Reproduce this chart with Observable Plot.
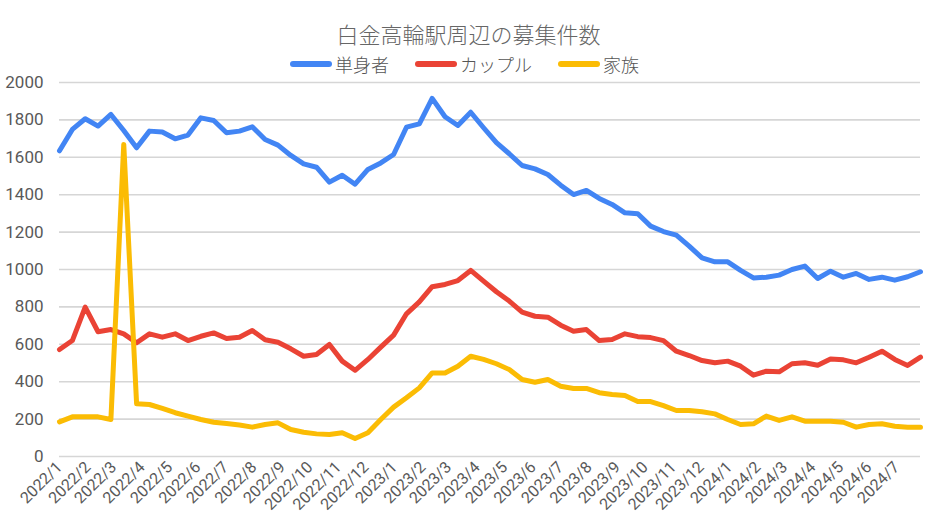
<!DOCTYPE html>
<html lang="ja">
<head>
<meta charset="utf-8">
<script src="https://cdn.jsdelivr.net/npm/d3@7"></script>
<script src="https://cdn.jsdelivr.net/npm/@observablehq/plot@0.6"></script>
<style>
  html, body { margin: 0; padding: 0; background: #fff; }
  body { width: 945px; height: 532px; overflow: hidden; font-family: "Noto Sans CJK JP", Roboto, sans-serif; }
  #title { margin-top: 21px; height: 24px; line-height: 24px; text-align: center; font-size: 22px; font-weight: 300; color: #666; padding-right: 8px; }
  #legend { margin-top: 9px; height: 20px; line-height: 20px; display: flex; justify-content: center; align-items: center; font-size: 18px; font-weight: 300; color: #555; padding-right: 16px; }
  .item { display: flex; align-items: center; margin: 0 13px; }
  .sw { display: inline-block; width: 42px; height: 6px; border-radius: 3px; margin-right: 3px; }
  #chart { height: 457px; }
</style>
</head>
<body>
<div id="title">白金高輪駅周辺の募集件数</div>
<div id="legend"></div>
<div id="chart"></div>
<script>
// 調査日（2週間ごと）
const dates = [
  "2022-01-04","2022-01-18","2022-02-01","2022-02-15","2022-03-01","2022-03-15","2022-03-29","2022-04-12","2022-04-26","2022-05-10",
  "2022-05-24","2022-06-07","2022-06-21","2022-07-05","2022-07-19","2022-08-02","2022-08-16","2022-08-30","2022-09-13","2022-09-27",
  "2022-10-11","2022-10-25","2022-11-08","2022-11-22","2022-12-06","2022-12-20",
  "2023-01-03","2023-01-17","2023-01-31","2023-02-14","2023-02-28","2023-03-14","2023-03-28","2023-04-11","2023-04-25","2023-05-09",
  "2023-05-23","2023-06-06","2023-06-20","2023-07-04","2023-07-18","2023-08-01","2023-08-15","2023-08-29","2023-09-12","2023-09-26",
  "2023-10-10","2023-10-24","2023-11-07","2023-11-21","2023-12-05","2023-12-19",
  "2024-01-02","2024-01-16","2024-01-30","2024-02-13","2024-02-27","2024-03-12","2024-03-26","2024-04-09","2024-04-23","2024-05-07",
  "2024-05-21","2024-06-04","2024-06-18","2024-07-02","2024-07-16","2024-07-30"
];

const seriesNames = ["単身者", "カップル", "家族"];
const seriesColors = ["#4285F4", "#EA4335", "#FBBC04"];

const single = [
  1635,1749,1806,1767,1829,1743,1651,1740,1735,1699,
  1719,1811,1797,1731,1740,1763,1695,1665,1610,1565,
  1547,1467,1504,1456,1535,1570,1615,1761,1779,1915,
  1817,1770,1841,1758,1678,1619,1556,1538,1508,1451,
  1401,1423,1380,1348,1303,1298,1232,1203,1184,1125,
  1062,1041,1041,995,955,959,970,1000,1018,952,
  991,959,979,947,959,943,961,988
];
const couple = [
  572,620,799,667,679,656,608,656,638,656,
  620,643,661,631,638,674,624,611,576,536,
  545,599,510,461,519,585,649,763,827,908,
  920,941,995,938,881,831,772,750,745,702,
  670,679,620,626,656,641,636,620,563,540,
  513,501,510,483,435,456,453,496,501,488,
  522,517,501,531,563,519,487,531
];
const family = [
  185,212,212,212,198,1669,282,278,257,234,
  216,198,183,176,168,157,171,180,144,130,
  121,118,127,96,127,198,264,314,367,447,
  447,483,536,519,496,465,412,397,412,376,
  364,364,341,332,326,294,294,272,246,246,
  239,228,198,171,175,216,193,212,189,189,
  189,183,157,171,175,162,157,157
];

const yTicks = [0, 200, 400, 600, 800, 1000, 1200, 1400, 1600, 1800, 2000];
const xTickLabels = [
  "2022/1","2022/2","2022/3","2022/4","2022/5","2022/6","2022/7","2022/8","2022/9","2022/10","2022/11","2022/12",
  "2023/1","2023/2","2023/3","2023/4","2023/5","2023/6","2023/7","2023/8","2023/9","2023/10","2023/11","2023/12",
  "2024/1","2024/2","2024/3","2024/4","2024/5","2024/6","2024/7"
];

// build table
const parse = d3.utcParse("%Y-%m-%d");
const values = [single, couple, family];
const rows = [];
seriesNames.forEach((name, s) => {
  dates.forEach((d, i) => rows.push({date: parse(d), value: values[s][i], series: name}));
});
const labelToDate = new Map(xTickLabels.map(l => {
  const [y, m] = l.split("/").map(Number);
  return [l, new Date(Date.UTC(y, m - 1, 4))];
}));
const tickDates = xTickLabels.map(l => labelToDate.get(l));
const dateToLabel = new Map(xTickLabels.map(l => [+labelToDate.get(l), l]));

// legend
const legend = document.getElementById("legend");
seriesNames.forEach((n, i) => {
  const item = document.createElement("div");
  item.className = "item";
  item.innerHTML = `<span class="sw" style="background:${seriesColors[i]}"></span><span>${n}</span>`;
  legend.appendChild(item);
});

const x0 = parse(dates[0]), x1 = parse(dates[dates.length - 1]);
const chart = Plot.plot({
  width: 945,
  height: 457,
  marginTop: 8,
  marginBottom: 75,
  marginLeft: 59,
  marginRight: 25,
  style: {fontFamily: "Roboto, 'Noto Sans CJK JP', sans-serif", color: "#595959", background: "#fff", overflow: "visible"},
  x: {type: "utc", domain: [x0, x1], label: null},
  y: {domain: [0, 2000], label: null},
  color: {domain: seriesNames, range: seriesColors},
  marks: [
    Plot.ruleY(yTicks, {stroke: "#d6d6d6", strokeWidth: 1.6, x1: x0, x2: x1}),
    Plot.axisY({ticks: yTicks, tickSize: 0, tickPadding: 16, tickFormat: d3.format("d"), fontSize: 17, label: null}),
    Plot.axisX({ticks: tickDates, tickFormat: d => dateToLabel.get(+d), tickRotate: -45, tickSize: 0, tickPadding: 8, fontSize: 16, label: null}),
    ...seriesNames.map((n, s) => Plot.lineY(rows.filter(r => r.series === n), {
      x: "date", y: "value", stroke: "series", strokeWidth: 5, strokeLinejoin: "round", strokeLinecap: "round"
    }))
  ]
});
document.getElementById("chart").appendChild(chart);
</script>
</body>
</html>
